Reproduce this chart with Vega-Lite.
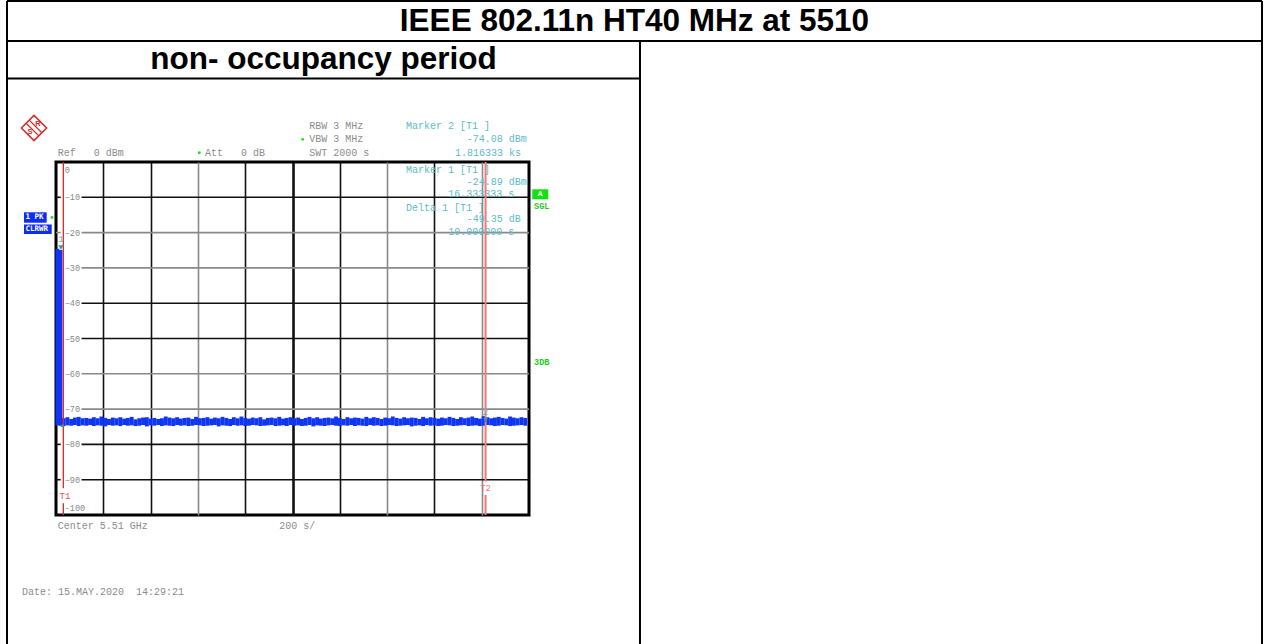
{
  "$schema": "https://vega.github.io/schema/vega-lite/v6.json",
  "width": 473,
  "height": 353,
  "autosize": {"type": "none"},
  "padding": {"left": 56, "top": 162, "right": 740, "bottom": 129},
  "background": "white",
  "config": {
    "view": {"stroke": "#000000", "strokeWidth": 3},
    "text": {"font": "Liberation Mono", "fontSize": 10, "baseline": "middle"},
    "axisY": {"disable": true}
  },
  "datasets": {
    "grid": [{"dB": -10}, {"dB": -20}, {"dB": -30}, {"dB": -40}, {"dB": -50}, {"dB": -60}, {"dB": -70}, {"dB": -80}, {"dB": -90}],
    "trace": [
      {"t": 6, "hi": -24.6, "lo": -74.6}, {"t": 19, "hi": -24.9, "lo": -74.7},
      {"t": 32, "hi": -72.6, "lo": -74.8}, {"t": 48, "hi": -72.3, "lo": -74.6}, {"t": 64, "hi": -72.8, "lo": -74.7}, {"t": 80, "hi": -72.4, "lo": -74.5},
      {"t": 96, "hi": -72.2, "lo": -74.8}, {"t": 112, "hi": -72.6, "lo": -74.6}, {"t": 128, "hi": -72.5, "lo": -74.7}, {"t": 144, "hi": -72.7, "lo": -74.5},
      {"t": 160, "hi": -72.3, "lo": -74.8}, {"t": 176, "hi": -72.6, "lo": -74.6}, {"t": 192, "hi": -72.1, "lo": -74.7}, {"t": 208, "hi": -72.5, "lo": -74.9},
      {"t": 224, "hi": -72.8, "lo": -74.5}, {"t": 240, "hi": -72.4, "lo": -74.7}, {"t": 256, "hi": -72.6, "lo": -74.6}, {"t": 272, "hi": -72.3, "lo": -74.8},
      {"t": 288, "hi": -72.7, "lo": -74.5}, {"t": 304, "hi": -72.5, "lo": -74.7}, {"t": 320, "hi": -72.2, "lo": -74.6}, {"t": 336, "hi": -72.9, "lo": -74.8},
      {"t": 352, "hi": -72.6, "lo": -74.7}, {"t": 368, "hi": -72.4, "lo": -74.5}, {"t": 384, "hi": -72.3, "lo": -74.9}, {"t": 400, "hi": -72.7, "lo": -74.6},
      {"t": 416, "hi": -72.5, "lo": -74.7}, {"t": 432, "hi": -72.8, "lo": -74.5}, {"t": 448, "hi": -72.6, "lo": -74.8}, {"t": 464, "hi": -72.1, "lo": -74.6},
      {"t": 480, "hi": -72.4, "lo": -74.7}, {"t": 496, "hi": -72.6, "lo": -74.8}, {"t": 512, "hi": -72.3, "lo": -74.5}, {"t": 528, "hi": -72.7, "lo": -74.7},
      {"t": 544, "hi": -72.5, "lo": -74.6}, {"t": 560, "hi": -72.4, "lo": -74.8}, {"t": 576, "hi": -72.8, "lo": -74.7}, {"t": 592, "hi": -72.2, "lo": -74.5},
      {"t": 608, "hi": -72.6, "lo": -74.6}, {"t": 624, "hi": -72.5, "lo": -74.8}, {"t": 640, "hi": -72.3, "lo": -74.7}, {"t": 656, "hi": -72.7, "lo": -74.6},
      {"t": 672, "hi": -72.4, "lo": -74.5}, {"t": 688, "hi": -72.6, "lo": -74.9}, {"t": 704, "hi": -72.2, "lo": -74.6}, {"t": 720, "hi": -72.5, "lo": -74.7},
      {"t": 736, "hi": -72.8, "lo": -74.8}, {"t": 752, "hi": -72.3, "lo": -74.5}, {"t": 768, "hi": -72.6, "lo": -74.7}, {"t": 784, "hi": -72.1, "lo": -74.6},
      {"t": 800, "hi": -72.5, "lo": -74.8}, {"t": 816, "hi": -72.7, "lo": -74.7}, {"t": 832, "hi": -72.4, "lo": -74.5}, {"t": 848, "hi": -72.6, "lo": -74.6},
      {"t": 864, "hi": -72.3, "lo": -74.8}, {"t": 880, "hi": -72.9, "lo": -74.7}, {"t": 896, "hi": -72.5, "lo": -74.6}, {"t": 912, "hi": -72.4, "lo": -74.5},
      {"t": 928, "hi": -72.6, "lo": -74.8}, {"t": 944, "hi": -72.2, "lo": -74.7}, {"t": 960, "hi": -72.7, "lo": -74.6}, {"t": 976, "hi": -72.5, "lo": -74.8},
      {"t": 992, "hi": -72.3, "lo": -74.5}, {"t": 1008, "hi": -72.6, "lo": -74.7}, {"t": 1024, "hi": -72.4, "lo": -74.6}, {"t": 1040, "hi": -72.8, "lo": -74.8},
      {"t": 1056, "hi": -72.5, "lo": -74.7}, {"t": 1072, "hi": -72.2, "lo": -74.5}, {"t": 1088, "hi": -72.6, "lo": -74.9}, {"t": 1104, "hi": -72.3, "lo": -74.6},
      {"t": 1120, "hi": -72.7, "lo": -74.7}, {"t": 1136, "hi": -72.5, "lo": -74.8}, {"t": 1152, "hi": -72.4, "lo": -74.6}, {"t": 1168, "hi": -72.6, "lo": -74.5},
      {"t": 1184, "hi": -72.1, "lo": -74.7}, {"t": 1200, "hi": -72.5, "lo": -74.8}, {"t": 1216, "hi": -72.8, "lo": -74.6}, {"t": 1232, "hi": -72.3, "lo": -74.7},
      {"t": 1248, "hi": -72.6, "lo": -74.5}, {"t": 1264, "hi": -72.4, "lo": -74.8}, {"t": 1280, "hi": -72.5, "lo": -74.6}, {"t": 1296, "hi": -72.7, "lo": -74.7},
      {"t": 1312, "hi": -72.2, "lo": -74.8}, {"t": 1328, "hi": -72.6, "lo": -74.5}, {"t": 1344, "hi": -72.3, "lo": -74.7}, {"t": 1360, "hi": -72.5, "lo": -74.6},
      {"t": 1376, "hi": -72.8, "lo": -74.8}, {"t": 1392, "hi": -72.4, "lo": -74.7}, {"t": 1408, "hi": -72.6, "lo": -74.5}, {"t": 1424, "hi": -72.1, "lo": -74.6},
      {"t": 1440, "hi": -72.5, "lo": -74.8}, {"t": 1456, "hi": -72.7, "lo": -74.7}, {"t": 1472, "hi": -72.3, "lo": -74.6}, {"t": 1488, "hi": -72.6, "lo": -74.5},
      {"t": 1504, "hi": -72.4, "lo": -74.9}, {"t": 1520, "hi": -72.5, "lo": -74.7}, {"t": 1536, "hi": -72.8, "lo": -74.6}, {"t": 1552, "hi": -72.2, "lo": -74.8},
      {"t": 1568, "hi": -72.6, "lo": -74.5}, {"t": 1584, "hi": -72.3, "lo": -74.7}, {"t": 1600, "hi": -72.5, "lo": -74.6}, {"t": 1616, "hi": -72.7, "lo": -74.8},
      {"t": 1632, "hi": -72.4, "lo": -74.7}, {"t": 1648, "hi": -72.6, "lo": -74.5}, {"t": 1664, "hi": -72.2, "lo": -74.6}, {"t": 1680, "hi": -72.5, "lo": -74.8},
      {"t": 1696, "hi": -72.8, "lo": -74.7}, {"t": 1712, "hi": -72.3, "lo": -74.6}, {"t": 1728, "hi": -72.6, "lo": -74.5}, {"t": 1744, "hi": -72.4, "lo": -74.8},
      {"t": 1760, "hi": -72.1, "lo": -74.7}, {"t": 1776, "hi": -72.5, "lo": -74.6}, {"t": 1792, "hi": -72.7, "lo": -74.8}, {"t": 1808, "hi": -72.0, "lo": -74.7},
      {"t": 1824, "hi": -72.3, "lo": -74.5}, {"t": 1840, "hi": -72.6, "lo": -74.6}, {"t": 1856, "hi": -72.4, "lo": -74.8}, {"t": 1872, "hi": -72.2, "lo": -74.7},
      {"t": 1888, "hi": -72.5, "lo": -74.5}, {"t": 1904, "hi": -72.7, "lo": -74.6}, {"t": 1920, "hi": -72.1, "lo": -74.8}, {"t": 1936, "hi": -72.4, "lo": -74.7},
      {"t": 1952, "hi": -72.6, "lo": -74.6}, {"t": 1968, "hi": -72.3, "lo": -74.5}, {"t": 1984, "hi": -72.5, "lo": -74.7}
    ]
  },
  "layer": [
    {
      "data": {"name": "grid"},
      "mark": {"type": "rule", "strokeWidth": 1.6},
      "encoding": {
        "y": {"field": "dB", "type": "quantitative", "scale": {"domain": [-100, 0], "nice": false, "zero": false}},
        "x": {
          "datum": 108,
          "scale": {"domain": [0, 2000], "nice": false, "zero": false},
          "axis": {
            "title": null, "values": [200, 400, 600, 800, 1000, 1200, 1400, 1600, 1800],
            "grid": true, "labels": false, "ticks": false, "domain": false, "gridOpacity": 1,
            "gridColor": {"condition": {"test": "datum.value == 600 || datum.value == 1400 || datum.value == 1800", "value": "#8a8a8a"}, "value": "#111111"},
            "gridWidth": {"condition": {"test": "datum.value == 1000", "value": 2.6}, "value": 1.6}
          }
        },
        "x2": {"datum": 2000},
        "color": {"condition": {"test": "datum.dB == -20 || datum.dB == -30 || datum.dB == -60 || datum.dB == -70", "value": "#8a8a8a"}, "value": "#111111"}
      }
    },
    {
      "data": {"name": "grid"},
      "mark": {"type": "rule", "strokeWidth": 1.6},
      "encoding": {
        "y": {"field": "dB", "type": "quantitative"},
        "x": {"datum": 0},
        "x2": {"datum": 20},
        "color": {"condition": {"test": "datum.dB == -20 || datum.dB == -30 || datum.dB == -60 || datum.dB == -70", "value": "#8a8a8a"}, "value": "#111111"}
      }
    },
    {
      "data": {"name": "grid"},
      "mark": {"type": "text", "align": "left", "fontSize": 8.5, "color": "#888888"},
      "encoding": {
        "y": {"field": "dB", "type": "quantitative"},
        "x": {"datum": 37},
        "text": {"field": "dB", "type": "quantitative", "format": "d"}
      }
    },
    {
      "data": {"name": "trace"},
      "mark": {"type": "rule", "color": "#0f35f5", "strokeWidth": 3.9},
      "encoding": {
        "x": {"field": "t", "type": "quantitative"},
        "y": {"field": "lo", "type": "quantitative"},
        "y2": {"field": "hi"}
      }
    },
    {
      "data": {"values": [{}]},
      "layer": [
        {"mark": {"type": "text", "align": "left", "fontSize": 8.5, "color": "#888888"}, "encoding": {"x": {"datum": 37}, "y": {"datum": -2.3}, "text": {"value": "0"}}},
        {"mark": {"type": "text", "align": "left", "fontSize": 8.5, "color": "#888888"}, "encoding": {"x": {"datum": 37}, "y": {"datum": -97.9}, "text": {"value": "-100"}}},

        {"mark": {"type": "rule", "color": "#000000", "strokeWidth": 2}, "encoding": {"x": {"datum": -207.2}, "x2": {"datum": 5099.4}, "y": {"datum": 45.6}}},
        {"mark": {"type": "rule", "color": "#000000", "strokeWidth": 2}, "encoding": {"x": {"datum": -207.2}, "x2": {"datum": 5099.4}, "y": {"datum": 34.28}}},
        {"mark": {"type": "rule", "color": "#000000", "strokeWidth": 2}, "encoding": {"x": {"datum": -207.2}, "x2": {"datum": 2469.3}, "y": {"datum": 23.65}}},
        {"mark": {"type": "rule", "color": "#000000", "strokeWidth": 2}, "encoding": {"x": {"datum": -207.2}, "y": {"datum": 45.6}, "y2": {"datum": -136.6}}},
        {"mark": {"type": "rule", "color": "#000000", "strokeWidth": 2}, "encoding": {"x": {"datum": 5099.4}, "y": {"datum": 45.6}, "y2": {"datum": -136.6}}},
        {"mark": {"type": "rule", "color": "#000000", "strokeWidth": 2}, "encoding": {"x": {"datum": 2469.3}, "y": {"datum": 34.28}, "y2": {"datum": -136.6}}},
        {"mark": {"type": "text", "font": "Liberation Sans", "fontWeight": "bold", "fontSize": 31.5}, "encoding": {"x": {"datum": 2446}, "y": {"datum": 39.7}, "text": {"value": "IEEE 802.11n HT40 MHz at 5510"}}},
        {"mark": {"type": "text", "font": "Liberation Sans", "fontWeight": "bold", "fontSize": 31.5}, "encoding": {"x": {"datum": 1131}, "y": {"datum": 28.8}, "text": {"value": "non- occupancy period"}}},

        {"mark": {"type": "point", "shape": "M0,-1L1,0L0,1L-1,0Z", "size": 640, "color": "#d42a2a", "filled": false, "strokeWidth": 1.5, "opacity": 1}, "encoding": {"x": {"datum": -93}, "y": {"datum": 9.63}}},
        {"mark": {"type": "point", "shape": "M-0.62,-0.38L0.38,0.62M-0.38,-0.62L0.62,0.38", "size": 640, "color": "#d42a2a", "filled": false, "strokeWidth": 1.3, "opacity": 1}, "encoding": {"x": {"datum": -93}, "y": {"datum": 9.63}}},
        {"mark": {"type": "text", "font": "Liberation Sans", "fontWeight": "bold", "fontSize": 7.5, "color": "#d42a2a", "dx": 4, "dy": -4}, "encoding": {"x": {"datum": -93}, "y": {"datum": 9.63}, "text": {"value": "R"}}},
        {"mark": {"type": "text", "font": "Liberation Sans", "fontWeight": "bold", "fontSize": 7.5, "color": "#d42a2a", "dx": -4, "dy": 4}, "encoding": {"x": {"datum": -93}, "y": {"datum": 9.63}, "text": {"value": "S"}}},

        {"mark": {"type": "text", "align": "left", "color": "#8c8c8c"}, "encoding": {"x": {"datum": 7.2}, "y": {"datum": 2.63}, "text": {"value": "Ref\u00a0\u00a0\u00a00\u00a0dBm"}}},
        {"mark": {"type": "point", "filled": true, "color": "#22dd22", "size": 8, "opacity": 1}, "encoding": {"x": {"datum": 606}, "y": {"datum": 2.63}}},
        {"mark": {"type": "text", "align": "left", "color": "#8c8c8c"}, "encoding": {"x": {"datum": 630}, "y": {"datum": 2.63}, "text": {"value": "Att\u00a0\u00a0\u00a00\u00a0dB"}}},
        {"mark": {"type": "text", "align": "left", "color": "#8c8c8c"}, "encoding": {"x": {"datum": 1071}, "y": {"datum": 10.2}, "text": {"value": "RBW 3 MHz"}}},
        {"mark": {"type": "point", "filled": true, "color": "#22dd22", "size": 8, "opacity": 1}, "encoding": {"x": {"datum": 1043}, "y": {"datum": 6.43}}},
        {"mark": {"type": "text", "align": "left", "color": "#8c8c8c"}, "encoding": {"x": {"datum": 1071}, "y": {"datum": 6.43}, "text": {"value": "VBW 3 MHz"}}},
        {"mark": {"type": "text", "align": "left", "color": "#8c8c8c"}, "encoding": {"x": {"datum": 1071}, "y": {"datum": 2.63}, "text": {"value": "SWT 2000 s"}}},

        {"mark": {"type": "text", "align": "left", "color": "#5cbcc6"}, "encoding": {"x": {"datum": 1480}, "y": {"datum": 10.2}, "text": {"value": "Marker 2 [T1 ]"}}},
        {"mark": {"type": "text", "align": "left", "color": "#5cbcc6"}, "encoding": {"x": {"datum": 1736.6}, "y": {"datum": 6.43}, "text": {"value": "-74.08 dBm"}}},
        {"mark": {"type": "text", "align": "left", "color": "#5cbcc6"}, "encoding": {"x": {"datum": 1687.1}, "y": {"datum": 2.63}, "text": {"value": "1.816333 ks"}}},
        {"mark": {"type": "text", "align": "left", "color": "#5cbcc6"}, "encoding": {"x": {"datum": 1480}, "y": {"datum": -2.27}, "text": {"value": "Marker 1 [T1 ]"}}},
        {"mark": {"type": "text", "align": "left", "color": "#5cbcc6"}, "encoding": {"x": {"datum": 1736.6}, "y": {"datum": -5.58}, "text": {"value": "-24.89 dBm"}}},
        {"mark": {"type": "text", "align": "left", "color": "#5cbcc6"}, "encoding": {"x": {"datum": 1658.8}, "y": {"datum": -9.15}, "text": {"value": "16.333333 s"}}},
        {"mark": {"type": "text", "align": "left", "color": "#5cbcc6"}, "encoding": {"x": {"datum": 1480}, "y": {"datum": -12.95}, "text": {"value": "Delta 1 [T1 ]"}}},
        {"mark": {"type": "text", "align": "left", "color": "#5cbcc6"}, "encoding": {"x": {"datum": 1736.6}, "y": {"datum": -16.23}, "text": {"value": "-49.35 dB"}}},
        {"mark": {"type": "text", "align": "left", "color": "#5cbcc6"}, "encoding": {"x": {"datum": 1658.8}, "y": {"datum": -19.83}, "text": {"value": "10.000000 s"}}},

        {"mark": {"type": "rect", "color": "#11e011"}, "encoding": {"x": {"datum": 2013.9}, "x2": {"datum": 2081.6}, "y": {"datum": -7.73}, "y2": {"datum": -10.57}}},
        {"mark": {"type": "text", "color": "#ffffff", "fontWeight": "bold", "fontSize": 8}, "encoding": {"x": {"datum": 2047.7}, "y": {"datum": -9.15}, "text": {"value": "A"}}},
        {"mark": {"type": "text", "color": "#1ec81e", "fontWeight": "bold", "fontSize": 8.5}, "encoding": {"x": {"datum": 2053.7}, "y": {"datum": -12.46}, "text": {"value": "SGL"}}},
        {"mark": {"type": "text", "color": "#1ec81e", "fontWeight": "bold", "fontSize": 8.5}, "encoding": {"x": {"datum": 2053.7}, "y": {"datum": -56.57}, "text": {"value": "3DB"}}},

        {"mark": {"type": "rect", "color": "#0d2ef0"}, "encoding": {"x": {"datum": -135.3}, "x2": {"datum": -39.3}, "y": {"datum": -14.25}, "y2": {"datum": -17.2}}},
        {"mark": {"type": "rect", "color": "#0d2ef0"}, "encoding": {"x": {"datum": -135.3}, "x2": {"datum": -18.2}, "y": {"datum": -17.7}, "y2": {"datum": -20.4}}},
        {"mark": {"type": "text", "align": "left", "color": "#ffffff", "font": "DejaVu Sans Mono", "fontWeight": "bold", "fontSize": 7.5}, "encoding": {"x": {"datum": -129}, "y": {"datum": -15.72}, "text": {"value": "1 PK"}}},
        {"mark": {"type": "text", "align": "left", "color": "#ffffff", "font": "DejaVu Sans Mono", "fontWeight": "bold", "fontSize": 7.5}, "encoding": {"x": {"datum": -129}, "y": {"datum": -19.07}, "text": {"value": "CLRWR"}}},
        {"mark": {"type": "point", "filled": true, "color": "#22dd22", "size": 8, "opacity": 1}, "encoding": {"x": {"datum": -17}, "y": {"datum": -15.72}}},

        {"mark": {"type": "rule", "color": "#e52424", "strokeWidth": 1.3}, "encoding": {"x": {"datum": 31}, "y": {"datum": 0}, "y2": {"datum": -92.4}}},
        {"mark": {"type": "rule", "color": "#e52424", "strokeWidth": 1.3}, "encoding": {"x": {"datum": 31}, "y": {"datum": -96.7}, "y2": {"datum": -100}}},
        {"mark": {"type": "text", "color": "#f04848", "fontSize": 9}, "encoding": {"x": {"datum": 38}, "y": {"datum": -94.6}, "text": {"value": "T1"}}},
        {"mark": {"type": "rule", "color": "#f07878", "strokeWidth": 2}, "encoding": {"x": {"datum": 1816.33}, "y": {"datum": 0}, "y2": {"datum": -90.5}}},
        {"mark": {"type": "rule", "color": "#f07878", "strokeWidth": 2}, "encoding": {"x": {"datum": 1816.33}, "y": {"datum": -94.3}, "y2": {"datum": -100}}},
        {"mark": {"type": "text", "color": "#f07878", "fontSize": 9}, "encoding": {"x": {"datum": 1816.33}, "y": {"datum": -92.4}, "text": {"value": "T2"}}},

        {"mark": {"type": "point", "shape": "triangle-down", "filled": true, "color": "#2a9a9e", "size": 28, "opacity": 1}, "encoding": {"x": {"datum": 21}, "y": {"datum": -24.2}}},
        {"mark": {"type": "text", "color": "#5cbcc6", "fontSize": 9}, "encoding": {"x": {"datum": 21}, "y": {"datum": -21.9}, "text": {"value": "1"}}},
        {"mark": {"type": "point", "shape": "triangle-down", "filled": true, "color": "#2a9a9e", "size": 24, "opacity": 1}, "encoding": {"x": {"datum": 1816.33}, "y": {"datum": -73.2}}},
        {"mark": {"type": "text", "color": "#5cbcc6", "fontSize": 9}, "encoding": {"x": {"datum": 1816.33}, "y": {"datum": -70.9}, "text": {"value": "2"}}},
        {"mark": {"type": "point", "shape": "triangle-up", "filled": true, "color": "#2a9a9e", "size": 16, "opacity": 1}, "encoding": {"x": {"datum": 28}, "y": {"datum": -74.6}}},

        {"mark": {"type": "text", "align": "left", "color": "#8c8c8c"}, "encoding": {"x": {"datum": 7.2}, "y": {"datum": -103.03}, "text": {"value": "Center 5.51 GHz"}}},
        {"mark": {"type": "text", "align": "left", "color": "#8c8c8c"}, "encoding": {"x": {"datum": 944.2}, "y": {"datum": -103.03}, "text": {"value": "200 s/"}}},
        {"mark": {"type": "text", "align": "left", "color": "#8c8c8c"}, "encoding": {"x": {"datum": -143.8}, "y": {"datum": -121.8}, "text": {"value": "Date: 15.MAY.2020\u00a0\u00a014:29:21"}}}
      ]
    }
  ]
}
